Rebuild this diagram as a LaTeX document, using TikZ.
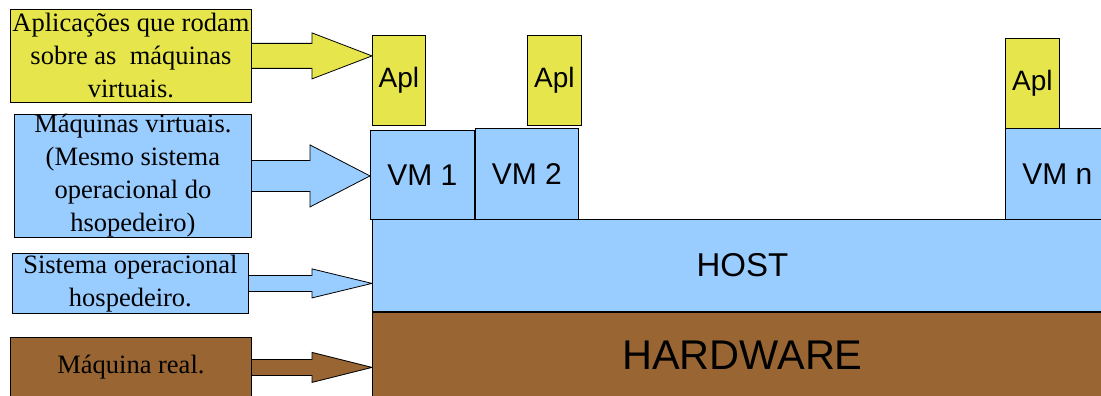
\documentclass[tikz,border=0pt]{standalone}
\usepackage{fontspec}
\setmainfont{Liberation Serif}
\setsansfont{Liberation Sans}
\usetikzlibrary{positioning, calc, backgrounds}

\definecolor{aplyellow}{RGB}{230,230,76}
\definecolor{vmblue}{RGB}{153,204,255}
\definecolor{hwbrown}{RGB}{153,102,51}

% block arrow: from box #1 to box #2, shaft half width #3, head half width #4
\newcommand{\blockarrow}[5]{%
  \coordinate (tip) at (#1.east -| #2.west);
  \filldraw[line width=0.8pt, #5] ($(#1.east)+(0,-#3)$) -- ($(tip)+(-60,-#3)$)
    -- ($(tip)+(-60,-#4)$) -- (tip) -- ($(tip)+(-60,#4)$)
    -- ($(tip)+(-60,#3)$) -- ($(#1.east)+(0,#3)$);
}

\begin{document}
\begin{tikzpicture}[x=1pt, y=-1pt,
    box/.style={draw, line width=0.8pt, inner sep=0pt, anchor=north west},
    note/.style={box, align=center, font=\fontsize{26.5}{33}\selectfont},
    aplbox/.style={box, fill=aplyellow, minimum height=90pt, font=\sffamily\fontsize{28}{30}\selectfont},
    vmbox/.style={box, fill=vmblue, minimum height=90pt, font=\sffamily\fontsize{30}{32}\selectfont}]
    \useasboundingbox (0,0) rectangle (1101,396);

    % left side notes
    \node[note, fill=aplyellow, minimum width=241pt, minimum height=93pt] (napl) at (10,9) {Aplicações que rodam\\sobre as~ máquinas\\virtuais.};
    \node[note, fill=vmblue, minimum width=237pt, minimum height=123pt] (nvm) at (14,114) {Máquinas virtuais.\\(Mesmo sistema\\operacional do\\hsopedeiro)};
    \node[note, fill=vmblue, minimum width=236pt, minimum height=60pt] (nhost) at (12,253) {Sistema operacional\\hospedeiro.};
    \node[note, fill=hwbrown, minimum width=241pt, minimum height=60pt] (nhw) at (10,337) {Máquina real.};

    % layers
    \node[box, fill=vmblue, minimum width=740pt, minimum height=92pt, font=\sffamily\fontsize{33}{35}\selectfont] (host) at (372,219) {HOST};
    \node[box, fill=hwbrown, minimum width=740pt, minimum height=86pt, font=\sffamily\fontsize{41.5}{44}\selectfont, below=0pt of host] (hw) {HARDWARE};

    \node[vmbox, minimum width=104pt, minimum height=89pt] (vm1) at (370,130) {VM 1};
    \node[vmbox, minimum width=103pt, minimum height=91pt] (vm2) at (475,128) {VM 2};
    \node[vmbox, minimum width=104pt, minimum height=91pt] (vmn) at (1005,128) {VM n};

    \node[aplbox, minimum width=53pt] (apl1) at (372,35) {Apl};
    \node[aplbox, minimum width=54pt] (apl2) at (527,35) {Apl};
    \node[aplbox, minimum width=54pt] (apln) at (1005,38) {Apl};

    \begin{scope}[on background layer]
        \blockarrow{napl}{apl1}{12.5}{23}{fill=aplyellow}
        \blockarrow{nvm}{vm1}{15.5}{31}{fill=vmblue}
        \blockarrow{nhost}{host}{8}{14.5}{fill=vmblue}
        \blockarrow{nhw}{hw}{8}{15}{fill=hwbrown}
    \end{scope}
\end{tikzpicture}
\end{document}
